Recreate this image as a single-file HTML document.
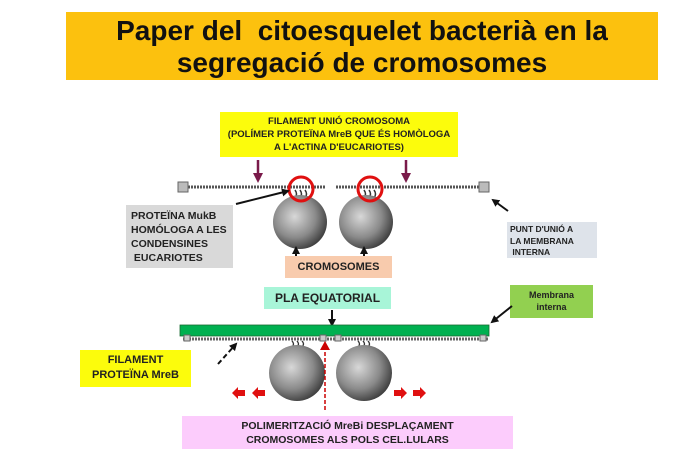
<!DOCTYPE html>
<html><head><meta charset="utf-8"><style>
body{margin:0;width:677px;height:474px;background:#fff;position:relative;overflow:hidden;font-family:"Liberation Sans",Arial,sans-serif;}
.b{position:absolute;font-weight:bold;color:#222;text-align:center;box-sizing:border-box;}
</style></head><body>
<div class="b" style="left:66px;top:12px;width:592px;height:68px;background:#fcc10e;font-size:28px;line-height:32px;color:#111;padding-top:3px;">Paper del&nbsp; citoesquelet bacterià en la<br>segregació de cromosomes</div>

<div class="b" style="left:220px;top:112px;width:238px;height:45px;background:#fcfc0c;font-size:9.5px;line-height:13px;padding-top:3px;">FILAMENT UNIÓ CROMOSOMA<br>(POLÍMER PROTEÏNA MreB QUE ÉS HOMÒLOGA<br>A L'ACTINA D'EUCARIOTES)</div>

<div class="b" style="left:126px;top:205px;width:107px;height:63px;background:#d9d9d9;font-size:10.5px;line-height:14px;text-align:left;padding:4px 0 0 5px;">PROTEÏNA MukB<br>HOMÓLOGA A LES<br>CONDENSINES<br>&nbsp;EUCARIOTES</div>

<div class="b" style="left:507px;top:222px;width:90px;height:36px;background:#dee3ea;font-size:8.5px;line-height:11.5px;text-align:left;padding:2px 0 0 3px;">PUNT D'UNIÓ A<br>LA MEMBRANA<br>&nbsp;INTERNA</div>

<div class="b" style="left:285px;top:256px;width:107px;height:22px;background:#f8cbad;font-size:11px;line-height:22px;">CROMOSOMES</div>

<div class="b" style="left:264px;top:287px;width:127px;height:22px;background:#a8f5d8;font-size:12px;line-height:22px;">PLA EQUATORIAL</div>

<div class="b" style="left:510px;top:285px;width:83px;height:33px;background:#92d050;font-size:9px;line-height:12px;padding-top:4px;">Membrana<br>interna</div>

<div class="b" style="left:80px;top:350px;width:111px;height:37px;background:#fcfc0c;font-size:11px;line-height:15px;padding-top:3px;">FILAMENT<br>PROTEÏNA MreB</div>

<div class="b" style="left:182px;top:416px;width:331px;height:33px;background:#fcccfc;font-size:10.5px;line-height:14px;padding-top:3px;">POLIMERITZACIÓ MreBi DESPLAÇAMENT<br>CROMOSOMES ALS POLS CEL.LULARS</div>

<svg width="677" height="474" style="position:absolute;left:0;top:0" xmlns="http://www.w3.org/2000/svg">
<defs>
<radialGradient id="g" cx="40%" cy="40%" r="65%"><stop offset="0" stop-color="#d8d8d8"/><stop offset="0.6" stop-color="#8a8a8a"/><stop offset="1" stop-color="#3a3a3a"/></radialGradient>
<marker id="a" markerWidth="8" markerHeight="8" refX="6" refY="4" orient="auto" markerUnits="userSpaceOnUse"><path d="M0,0 L8,4 L0,8 z" fill="#111"/></marker>
<marker id="p" markerWidth="10" markerHeight="10" refX="7" refY="5" orient="auto" markerUnits="userSpaceOnUse"><path d="M0,0 L10,5 L0,10 z" fill="#7a1a4a"/></marker>
</defs>
<!-- purple arrows -->
<line x1="258" y1="160" x2="258" y2="180" stroke="#7a1a4a" stroke-width="2.5" marker-end="url(#p)"/>
<line x1="406" y1="160" x2="406" y2="180" stroke="#7a1a4a" stroke-width="2.5" marker-end="url(#p)"/>
<!-- top filament -->
<line x1="185" y1="187" x2="326" y2="187" stroke="#555" stroke-width="3" stroke-dasharray="2 1"/>
<line x1="336" y1="187" x2="482" y2="187" stroke="#555" stroke-width="3" stroke-dasharray="2 1"/>
<rect x="178" y="182" width="10" height="10" fill="#bbb" stroke="#666"/>
<rect x="479" y="182" width="10" height="10" fill="#bbb" stroke="#666"/>
<path d="M295,190 q3,4 0,8 M300,190 q3,4 0,8 M305,190 q3,4 0,8 M364,190 q3,4 0,8 M369,190 q3,4 0,8 M374,190 q3,4 0,8" stroke="#333" stroke-width="1.5" fill="none"/>
<circle cx="300" cy="222" r="27" fill="url(#g)"/>
<circle cx="366" cy="222" r="27" fill="url(#g)"/>
<circle cx="301" cy="189" r="12" fill="none" stroke="#e01010" stroke-width="3"/>
<circle cx="370" cy="189" r="12" fill="none" stroke="#e01010" stroke-width="3"/>
<line x1="236" y1="204" x2="288" y2="191" stroke="#111" stroke-width="2" marker-end="url(#a)"/>
<line x1="508" y1="211" x2="493" y2="200" stroke="#111" stroke-width="2" marker-end="url(#a)"/>
<line x1="296" y1="256" x2="296" y2="248" stroke="#111" stroke-width="2" marker-end="url(#a)"/>
<line x1="364" y1="256" x2="364" y2="248" stroke="#111" stroke-width="2" marker-end="url(#a)"/>
<!-- bottom -->
<line x1="332" y1="310" x2="332" y2="325" stroke="#111" stroke-width="2" marker-end="url(#a)"/>
<line x1="512" y1="306" x2="492" y2="322" stroke="#111" stroke-width="2" marker-end="url(#a)"/>
<line x1="183" y1="339" x2="488" y2="339" stroke="#666" stroke-width="3" stroke-dasharray="2 1"/>
<rect x="180" y="325" width="309" height="11" fill="#00b050" stroke="#1a6a30" stroke-width="0.8"/>
<rect x="184" y="335" width="6" height="6" fill="#ccc" stroke="#666"/>
<rect x="320" y="335" width="6" height="6" fill="#ccc" stroke="#666"/>
<rect x="335" y="335" width="6" height="6" fill="#ccc" stroke="#666"/>
<rect x="480" y="335" width="6" height="6" fill="#ccc" stroke="#666"/>
<path d="M292,341 q3,3 0,6 M297,341 q3,3 0,6 M302,341 q3,3 0,6 M358,341 q3,3 0,6 M363,341 q3,3 0,6 M368,341 q3,3 0,6" stroke="#333" stroke-width="1.3" fill="none"/>
<circle cx="297" cy="373" r="28" fill="url(#g)"/>
<circle cx="364" cy="373" r="28" fill="url(#g)"/>
<line x1="218" y1="364" x2="236" y2="344" stroke="#111" stroke-width="2" stroke-dasharray="5 3" marker-end="url(#a)"/>
<line x1="325" y1="410" x2="325" y2="345" stroke="#c00" stroke-width="1.5" stroke-dasharray="4 2"/>
<path d="M320,350 L325,341 L330,350 z" fill="#c00"/>
<path d="M232,393 l6,-6 v3 h7 v6 h-7 v3 z M252,393 l6,-6 v3 h7 v6 h-7 v3 z" fill="#e01010"/>
<path d="M423,393 l-6,-6 v3 h-7 v6 h7 v3 z M442,393 l-6,-6 v3 h-7 v6 h7 v3 z" fill="#e01010" transform="translate(-16,0)"/>
</svg>
</body></html>
